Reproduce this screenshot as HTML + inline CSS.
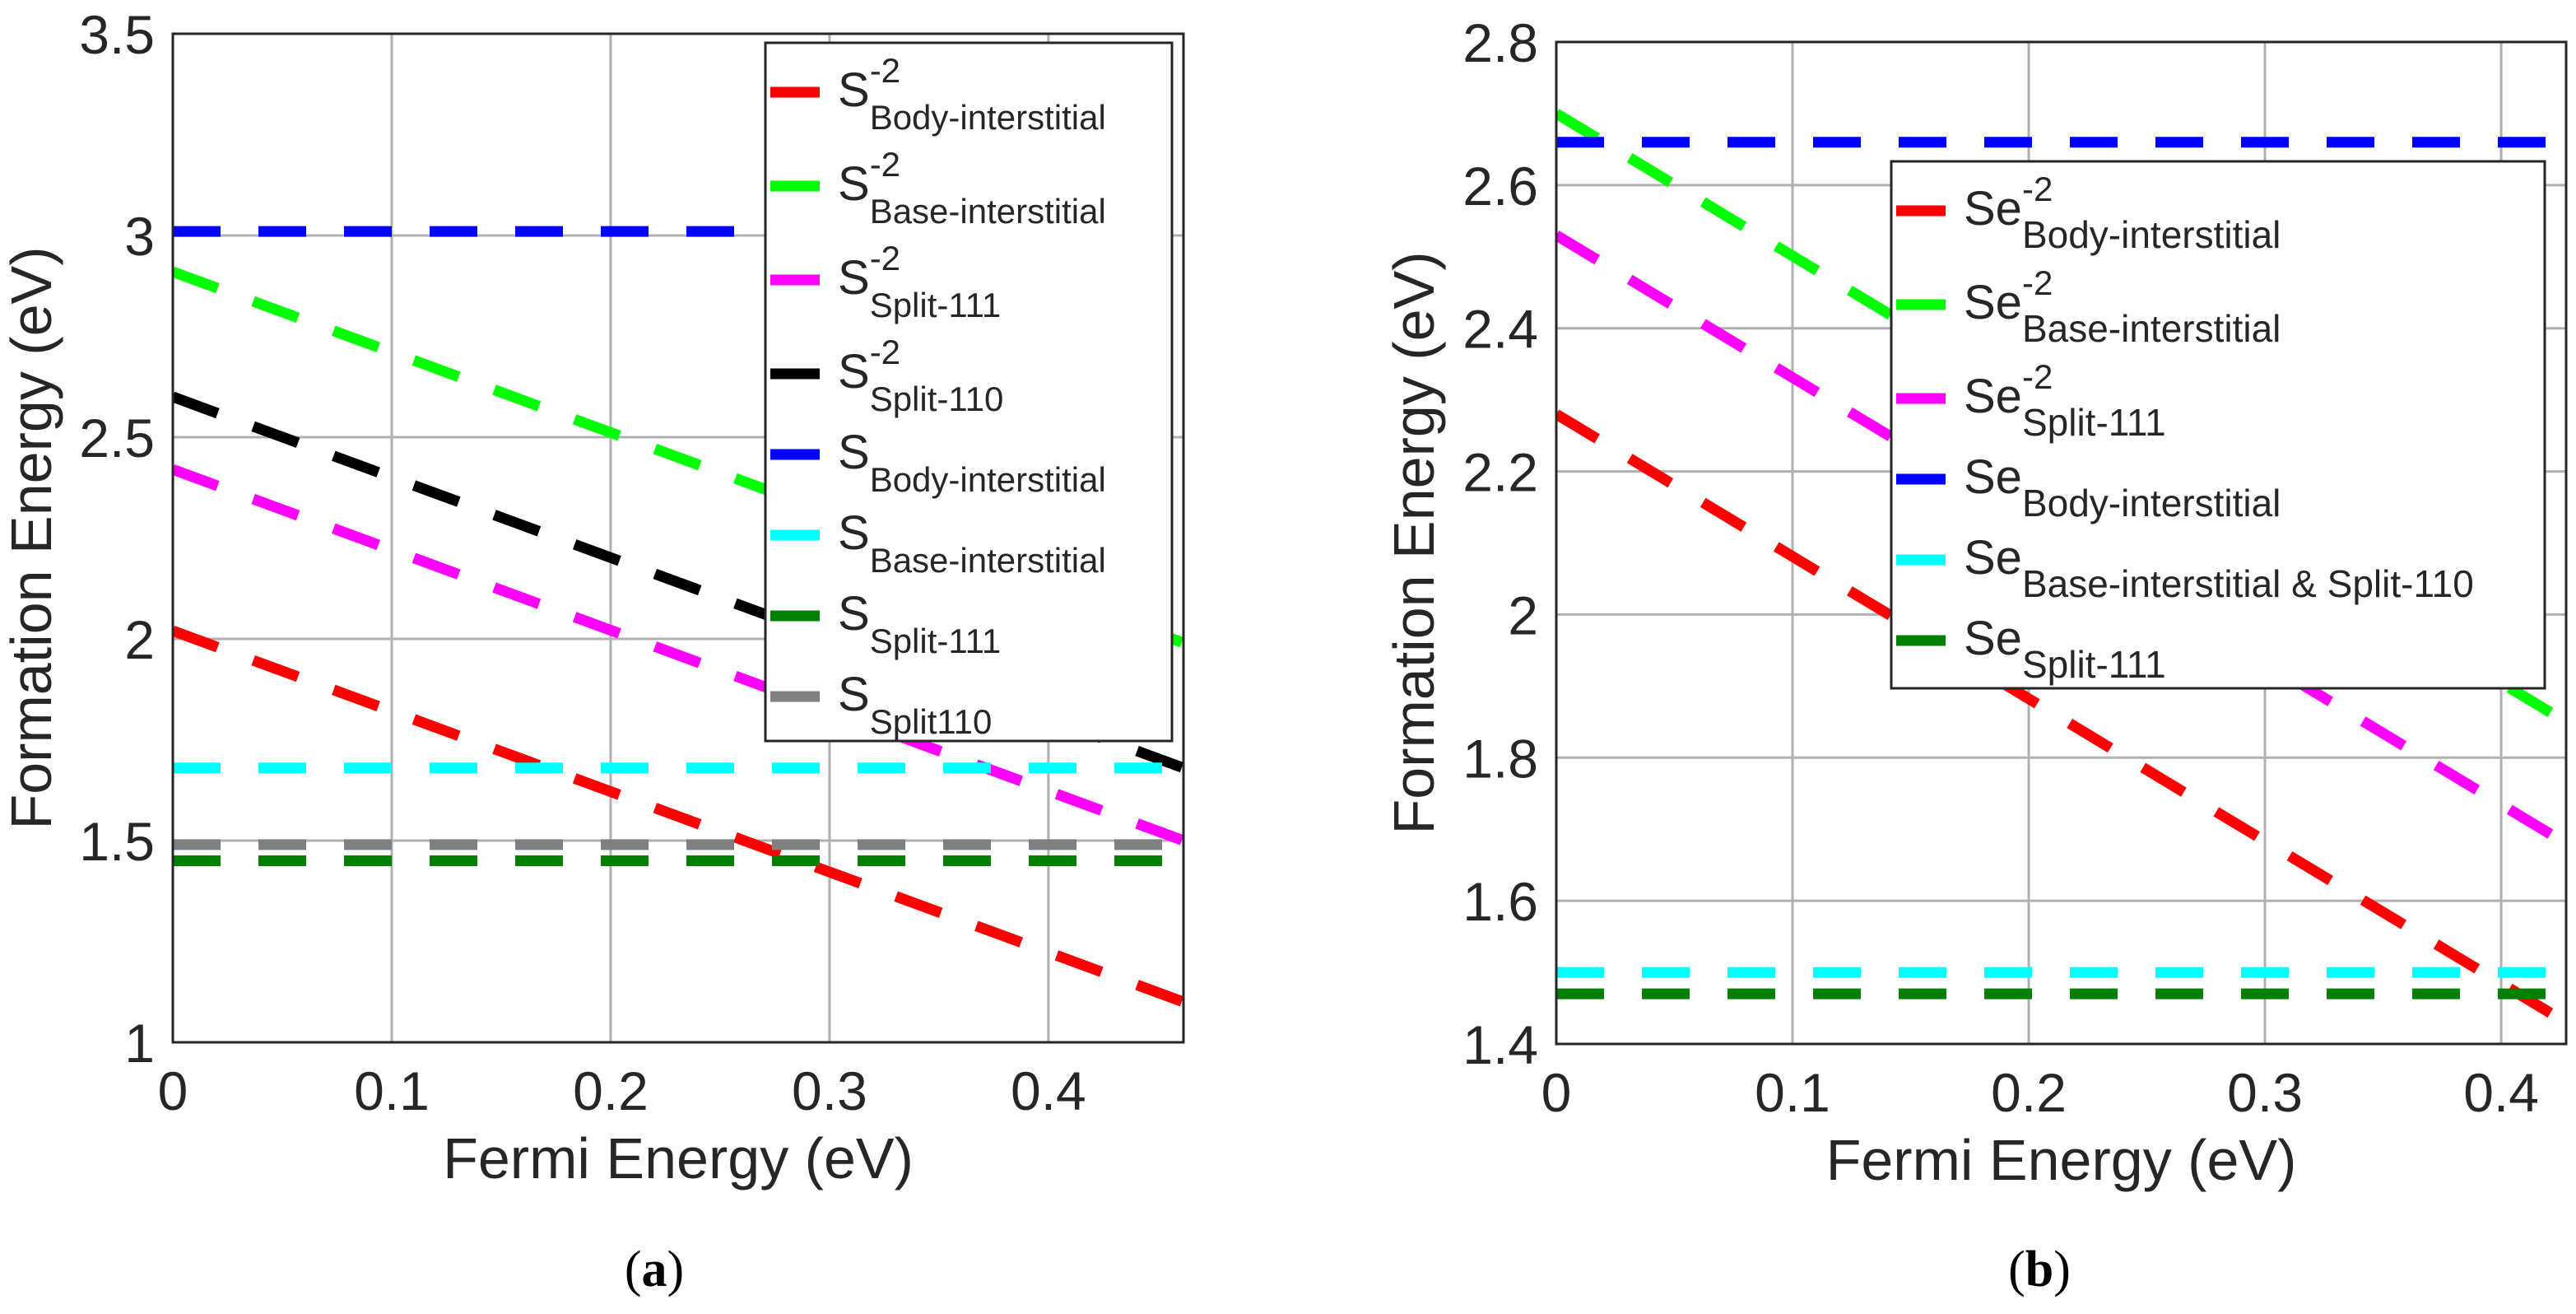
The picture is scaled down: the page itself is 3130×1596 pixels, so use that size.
<!DOCTYPE html>
<html><head><meta charset="utf-8"><style>
html,body{margin:0;padding:0;background:#fff}
svg{display:block}
text{font-family:"Liberation Sans",sans-serif;fill:#262626}
</style></head><body>
<svg id="fig" width="3130" height="1596" viewBox="0 0 3130 1596" xmlns="http://www.w3.org/2000/svg">
<g id="pa"></g>
<g id="pb"></g>
<text x="795" y="1562" text-anchor="middle" style="font-family:'Liberation Serif',serif;font-size:62px;fill:#000">(<tspan font-weight="bold">a</tspan>)</text>
<text x="2478" y="1562" text-anchor="middle" style="font-family:'Liberation Serif',serif;font-size:62px;fill:#000">(<tspan font-weight="bold">b</tspan>)</text>
</svg>
<script>
// Panel (a) data
const aXTicks = [0, 0.1, 0.2, 0.3, 0.4];
const aYTicks = [1, 1.5, 2, 2.5, 3, 3.5];
const aYTickLabels = ["1", "1.5", "2", "2.5", "3", "3.5"];
const aXTickLabels = ["0", "0.1", "0.2", "0.3", "0.4"];
const aNames = ["S", "S", "S", "S", "S", "S", "S", "S"];
const aSups = ["-2", "-2", "-2", "-2", "", "", "", ""];
const aSubs = ["Body-interstitial", "Base-interstitial", "Split-111", "Split-110", "Body-interstitial", "Base-interstitial", "Split-111", "Split110"];
const aColors = ["#ff0000", "#00ff00", "#ff00ff", "#000000", "#0000ff", "#00ffff", "#008000", "#808080"];
const aStart = [2.02, 2.91, 2.42, 2.60, 3.01, 1.68, 1.45, 1.49];
const aEnd = [1.10, 1.99, 1.50, 1.68, 3.01, 1.68, 1.45, 1.49];
// Panel (b) data
const bXTicks = [0, 0.1, 0.2, 0.3, 0.4];
const bYTicks = [1.4, 1.6, 1.8, 2.0, 2.2, 2.4, 2.6, 2.8];
const bYTickLabels = ["1.4", "1.6", "1.8", "2", "2.2", "2.4", "2.6", "2.8"];
const bXTickLabels = ["0", "0.1", "0.2", "0.3", "0.4"];
const bNames = ["Se", "Se", "Se", "Se", "Se", "Se"];
const bSups = ["-2", "-2", "-2", "", "", ""];
const bSubs = ["Body-interstitial", "Base-interstitial", "Split-111", "Body-interstitial", "Base-interstitial & Split-110", "Split-111"];
const bColors = ["#ff0000", "#00ff00", "#ff00ff", "#0000ff", "#00ffff", "#008000"];
const bStart = [2.28, 2.70, 2.53, 2.66, 1.50, 1.47];
const bEnd = [1.43, 1.85, 1.68, 2.66, 1.50, 1.47];

const NS = "http://www.w3.org/2000/svg";
function mk(tag, parent, attrs) {
  const e = document.createElementNS(NS, tag);
  for (const k in attrs) e.setAttribute(k, attrs[k]);
  parent.appendChild(e);
  return e;
}

function panel(g, cfg) {
  const sx = v => cfg.x0 + (v - cfg.xmin) / (cfg.xmax - cfg.xmin) * (cfg.x1 - cfg.x0);
  const sy = v => cfg.y1 - (v - cfg.ymin) / (cfg.ymax - cfg.ymin) * (cfg.y1 - cfg.y0);
  cfg.xt.forEach((t, i) => {
    const l = mk("line", g, {x1: sx(t), x2: sx(t), y1: cfg.y0, y2: cfg.y1, stroke: "#b0b0b0", "stroke-width": 3});
    
    
    const tx = mk("text", g, {x: sx(t), y: cfg.y1 + 82, "text-anchor": "middle", "font-size": 66});
    tx.textContent = cfg.xtl[i];
    
    
  });
  cfg.yt.forEach((t, i) => {
    const l = mk("line", g, {x1: cfg.x0, x2: cfg.x1, y1: sy(t), y2: sy(t), stroke: "#b0b0b0", "stroke-width": 3});
    
    
    const tx = mk("text", g, {x: cfg.x0 - 22, y: sy(t) + 24, "text-anchor": "end", "font-size": 66});
    tx.textContent = cfg.ytl[i];
    
    
  });
  const clip = mk("clipPath", g, {id: cfg.id + "clip"});
  mk("rect", clip, {x: cfg.x0, y: cfg.y0, width: cfg.x1 - cfg.x0, height: cfg.y1 - cfg.y0});
  cfg.start.forEach((s, i) => {
    const l = mk("line", g, {x1: sx(cfg.xmin), y1: sy(s), x2: sx(cfg.xmax), y2: sy(cfg.end[i]), stroke: cfg.colors[i], "stroke-width": 13, "stroke-dasharray": "58 46", "clip-path": "url(#" + cfg.id + "clip)"});
    
    
  });
  const box = mk("rect", g, {x: cfg.x0, y: cfg.y0, width: cfg.x1 - cfg.x0, height: cfg.y1 - cfg.y0, fill: "none", stroke: "#262626", "stroke-width": 3});
  
  
  const xt = mk("text", g, {x: (cfg.x0 + cfg.x1) / 2, y: cfg.y1 + 165, "text-anchor": "middle", "font-size": 70});
  xt.textContent = "Fermi Energy (eV)";
  
  
  const yt = mk("text", g, {x: 0, y: 0, "text-anchor": "middle", "font-size": 70, transform: "translate(" + cfg.ytx + "," + (cfg.y0 + cfg.y1) / 2 + ") rotate(-90)"});
  yt.textContent = "Formation Energy (eV)";
  
  
  const lg = mk("g", g, {});
  
  
  const lb = mk("rect", lg, {x: cfg.lx0, y: cfg.ly0, width: cfg.lx1 - cfg.lx0, height: cfg.ly1 - cfg.ly0, fill: "#fff", stroke: "#262626", "stroke-width": 3});
  
  
  let y = cfg.ly0 + 60;
  cfg.names.forEach((n, i) => {
    if (i > 0) y += cfg.sups[i] ? 114 : 98;
    const e = mk("g", lg, {});
    
    
    mk("line", e, {x1: cfg.lx0 + 6, x2: cfg.lx0 + 66, y1: y, y2: y, stroke: cfg.colors[i], "stroke-width": 13});
    const t = mk("text", e, {x: cfg.lx0 + 88, y: y + 17, "font-size": 58});
    t.textContent = n;
    const w = t.getComputedTextLength();
    if (cfg.sups[i]) {
      const sp = mk("text", e, {x: cfg.lx0 + 88 + w, y: y - 12, "font-size": 42});
      sp.textContent = cfg.sups[i];
    }
    const sb = mk("text", e, {x: cfg.lx0 + 88 + w, y: y + 45, "font-size": cfg.subSize});
    sb.textContent = cfg.subs[i];
  });
}

panel(document.getElementById("pa"), {id: "a", x0: 210, x1: 1438, y0: 41, y1: 1266, xmin: 0, xmax: 0.4617, ymin: 1, ymax: 3.5,
  xt: aXTicks, xtl: aXTickLabels, yt: aYTicks, ytl: aYTickLabels, colors: aColors, start: aStart, end: aEnd,
  names: aNames, sups: aSups, subs: aSubs, lx0: 930, lx1: 1424, ly0: 52, ly1: 900, ytx: 62, subSize: 42});
panel(document.getElementById("pb"), {id: "b", x0: 1891, x1: 3118, y0: 51, y1: 1268, xmin: 0, xmax: 0.4275, ymin: 1.4, ymax: 2.8,
  xt: bXTicks, xtl: bXTickLabels, yt: bYTicks, ytl: bYTickLabels, colors: bColors, start: bStart, end: bEnd,
  names: bNames, sups: bSups, subs: bSubs, lx0: 2298, lx1: 3092, ly0: 196, ly1: 836, ytx: 1742, subSize: 46});
</script>
</body></html>
